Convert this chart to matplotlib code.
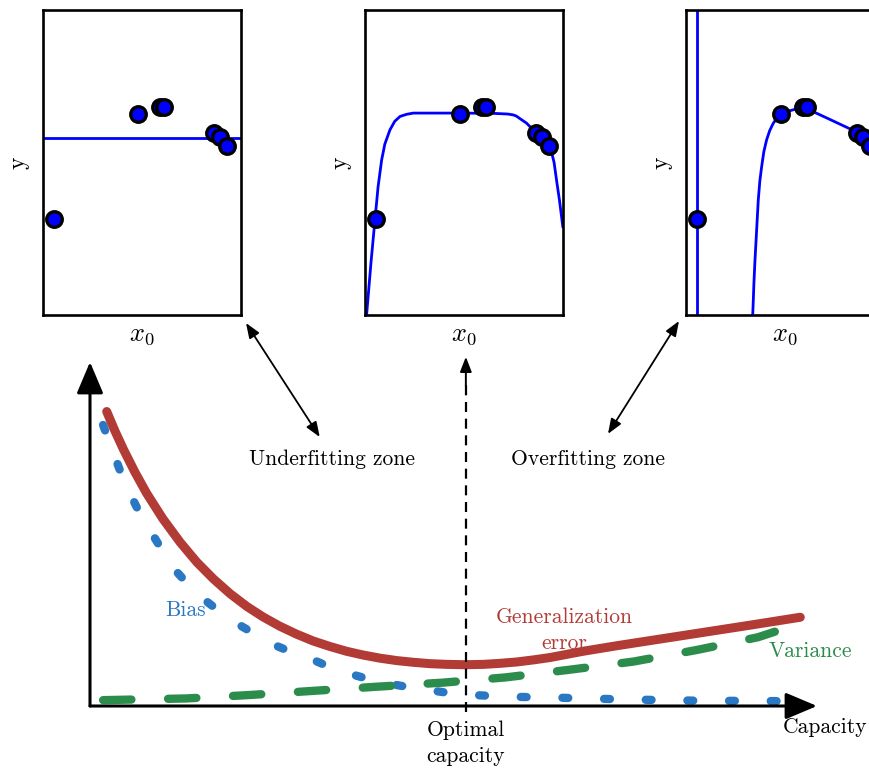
import numpy as np
import matplotlib
matplotlib.use("Agg")
import matplotlib.pyplot as plt

plt.rcParams['font.family'] = ['cmr10', 'DejaVu Serif']
plt.rcParams['mathtext.fontset'] = 'cm'
plt.rcParams['axes.unicode_minus'] = False

# Données des encarts (mêmes points dans les trois)
pts_x = [0.054, 0.481, 0.589, 0.609, 0.862, 0.892, 0.929]
pts_y = [0.314, 0.659, 0.681, 0.681, 0.598, 0.583, 0.554]

# ajustement "bon" (encart du milieu)
fit_mid_x = [0.008, 0.03, 0.05, 0.066, 0.084, 0.10, 0.126, 0.15, 0.177, 0.21, 0.244, 0.48,
             0.65, 0.72, 0.749, 0.765, 0.78, 0.816, 0.84, 0.867, 0.90, 0.92, 0.94, 0.955,
             0.97, 0.982, 0.999]
fit_mid_y = [0.0, 0.17, 0.31, 0.42, 0.508, 0.56, 0.607, 0.635, 0.651, 0.658, 0.662, 0.662,
             0.661, 0.659, 0.656, 0.652, 0.645, 0.629, 0.613, 0.596, 0.576, 0.565, 0.54, 0.50,
             0.43, 0.377, 0.29]

# surapprentissage (encart de droite)
over_vert_x = [0.057, 0.057]
over_vert_y = [-0.1, 1.1]
over_x = [0.337, 0.340, 0.343, 0.348, 0.354, 0.365, 0.373, 0.382, 0.393, 0.407, 0.423, 0.441,
          0.46, 0.475, 0.483, 0.591, 0.711, 0.862, 0.944, 1.0]
over_y = [0.0, 0.05, 0.104, 0.175, 0.246, 0.377, 0.44, 0.486, 0.535, 0.574, 0.605, 0.629,
          0.646, 0.656, 0.662, 0.682, 0.646, 0.600, 0.551, 0.52]

# Courbes principales (capacité normalisée 0..1)
gen_x = [0.023, 0.034, 0.046, 0.062, 0.078, 0.10, 0.124, 0.147, 0.170, 0.193, 0.216, 0.238,
         0.261, 0.284, 0.307, 0.33, 0.353, 0.376, 0.399, 0.422, 0.445, 0.468, 0.491, 0.516,
         0.541, 0.564, 0.587, 0.61, 0.633, 0.678, 0.724, 0.770, 0.816, 0.862, 0.908, 0.953, 0.977]
gen_y = [0.856, 0.801, 0.746, 0.679, 0.618, 0.545, 0.476, 0.418, 0.369, 0.326, 0.289, 0.259,
         0.232, 0.209, 0.189, 0.173, 0.159, 0.148, 0.139, 0.132, 0.127, 0.123, 0.121, 0.120,
         0.121, 0.124, 0.128, 0.134, 0.141, 0.159, 0.175, 0.190, 0.205, 0.220, 0.235, 0.250, 0.258]

bias_x = [0.018, 0.03, 0.041, 0.052, 0.064, 0.078, 0.092, 0.106, 0.121, 0.14, 0.161, 0.183,
          0.206, 0.23, 0.254, 0.28, 0.307, 0.33, 0.355, 0.38, 0.408, 0.435, 0.463, 0.49,
          0.518, 0.573, 0.628, 0.683, 0.738, 0.793, 0.848, 0.903, 0.958, 0.970]
bias_y = [0.817, 0.748, 0.686, 0.63, 0.579, 0.526, 0.478, 0.43, 0.386, 0.342, 0.303, 0.267,
          0.235, 0.205, 0.177, 0.154, 0.134, 0.113, 0.095, 0.08, 0.066, 0.056, 0.047, 0.039,
          0.033, 0.027, 0.025, 0.022, 0.019, 0.017, 0.015, 0.015, 0.014, 0.014]

var_x = [0.018, 0.133, 0.220, 0.307, 0.394, 0.486, 0.571, 0.658, 0.747, 0.835, 0.919, 0.942]
var_y = [0.017, 0.022, 0.032, 0.044, 0.056, 0.068, 0.083, 0.105, 0.129, 0.163, 0.200, 0.216]

optimal_capacity = 0.517

W, H = 869, 774
fig = plt.figure(figsize=(W / 100, H / 100), dpi=100)


def px_box(left, top, right, bottom):
    return [left / W, 1 - bottom / H, (right - left) / W, (bottom - top) / H]


def inset(ax):
    ax.scatter(pts_x, pts_y, s=125, c='blue', edgecolors='black', linewidths=2.4, zorder=3)
    ax.set_xlim(0, 1)
    ax.set_ylim(0, 1)
    ax.set_xticks([])
    ax.set_yticks([])
    for sp in ax.spines.values():
        sp.set_linewidth(1.9)
    ax.set_xlabel('$x_0$', fontsize=19, labelpad=6)
    ax.set_ylabel('y', fontsize=17, labelpad=10)


ax1 = fig.add_axes(px_box(43, 10, 241, 315))
ax1.axhline(np.mean(pts_y), color='blue', lw=2)
inset(ax1)

ax2 = fig.add_axes(px_box(365, 10, 563, 315))
ax2.plot(fit_mid_x, fit_mid_y, color='blue', lw=2, solid_joinstyle='round')
inset(ax2)

ax3 = fig.add_axes(px_box(686, 10, 884, 315))
ax3.plot(over_vert_x, over_vert_y, color='blue', lw=2)
ax3.plot(over_x, over_y, color='blue', lw=2, solid_joinstyle='round')
inset(ax3)

# Graphe principal
ax = fig.add_axes(px_box(90, 362, 817, 706))
ax.set_xlim(0, 1)
ax.set_ylim(0, 1)
ax.axis('off')

red = '#b23b36'
blue = '#2a78c4'
green = '#2b8c4c'

ax.plot(gen_x, gen_y, color=red, lw=6.5, solid_capstyle='round', solid_joinstyle='round', zorder=3)
ax.plot(bias_x, bias_y, color=blue, lw=6, dashes=(0.7, 4.3), dash_capstyle='round', zorder=2)
ax.plot(var_x, var_y, color=green, lw=6, dashes=(3.4, 4.4), dash_capstyle='round', zorder=2)

# axes avec flèches
arrow_axis = dict(arrowstyle='-|>,head_length=0.97,head_width=0.41', lw=2.2, color='black',
                  mutation_scale=20, shrinkA=0, shrinkB=0)
ax.annotate('', xy=(1, 0), xytext=(0, 0), xycoords='axes fraction', arrowprops=arrow_axis)
ax.annotate('', xy=(0, 1), xytext=(0, 0), xycoords='axes fraction', arrowprops=arrow_axis)

# capacité optimale
ax.plot([optimal_capacity, optimal_capacity], [-0.018, 0.95], color='black', lw=1.6,
        dashes=(4.5, 3), zorder=4, clip_on=False)
ax.annotate('', xy=(optimal_capacity, 1.015), xytext=(optimal_capacity, 0.93),
            annotation_clip=False,
            arrowprops=dict(arrowstyle='-|>,head_length=0.9,head_width=0.35', lw=1.4,
                            color='black', mutation_scale=10, shrinkA=0, shrinkB=0))

# flèches vers les encarts
dbl = dict(arrowstyle='<|-|>,head_length=0.9,head_width=0.35', lw=1.3, color='black',
           mutation_scale=10, shrinkA=0, shrinkB=0)
ax.annotate('', xy=(0.316, 0.782), xytext=(246, 774 - 323), textcoords='figure pixels',
            arrowprops=dbl, annotation_clip=False)
ax.annotate('', xy=(0.7125, 0.791), xytext=(679, 774 - 321), textcoords='figure pixels',
            arrowprops=dbl, annotation_clip=False)

fs = 15.5
ax.text(0.333, 0.718, 'Underfitting zone', fontsize=fs, ha='center', va='center')
ax.text(0.685, 0.718, 'Overfitting zone', fontsize=fs, ha='center', va='center')
ax.text(optimal_capacity, -0.042, 'Optimal\ncapacity', fontsize=fs, ha='center', va='top',
        linespacing=1.45)
ax.text(1.011, -0.061, 'Capacity', fontsize=fs, ha='center', va='center')
ax.text(0.131, 0.279, 'Bias', fontsize=fs, ha='center', va='center', color=blue)
ax.text(0.653, 0.221, 'Generalization\nerror', fontsize=fs, ha='center', va='center',
        color=red, linespacing=1.4)
ax.text(0.991, 0.158, 'Variance', fontsize=fs, ha='center', va='center', color=green)

fig.savefig('out.png', dpi=100)
